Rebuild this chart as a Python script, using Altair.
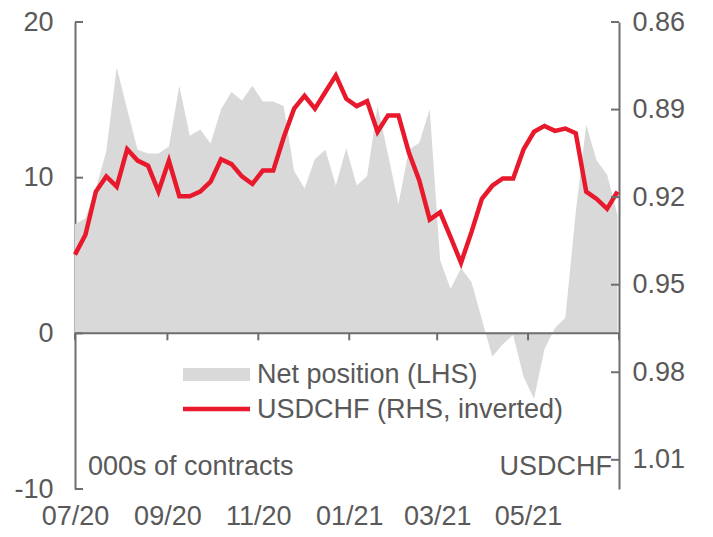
import altair as alt
import pandas as pd

# ---------------- data ----------------
dates = pd.date_range("2020-07-01", periods=53, freq="7D").strftime("%Y-%m-%dT00:00:00").tolist()

net_position = [
    7.0, 7.4, 9.3, 11.7, 17.1, 14.4, 11.8, 11.55, 11.55, 12.0,
    15.9, 12.7, 13.1, 12.2, 14.4, 15.5, 14.95, 15.9, 14.9, 14.9,
    14.6, 10.45, 9.3, 11.2, 11.8, 9.5, 11.9, 9.5, 10.1, 14.6,
    11.5, 8.3, 11.8, 12.25, 14.4, 4.7, 2.85, 4.2, 3.3, 0.9,
    -1.5, -0.7, -0.1, -2.8, -4.2, -1.0, 0.35, 1.0, 7.8, 13.4,
    11.1, 10.2, 7.6,
]

usdchf = [
    0.9397, 0.9329, 0.9181, 0.9129, 0.9164, 0.9036, 0.9075, 0.9092, 0.9181, 0.9075,
    0.9197, 0.9197, 0.9181, 0.9147, 0.9070, 0.9087, 0.9129, 0.9155, 0.9109, 0.9109,
    0.8996, 0.8897, 0.8853, 0.8897, 0.8840, 0.8783, 0.8863, 0.8888, 0.8871, 0.8976,
    0.8920, 0.8920, 0.9047, 0.9143, 0.9277, 0.9252, 0.9337, 0.9425, 0.9320, 0.9206,
    0.9161, 0.9136, 0.9136, 0.9036, 0.8976, 0.8956, 0.8973, 0.8965, 0.8981, 0.9181,
    0.9206, 0.9240, 0.9181,
]

x_tick_dates = [
    "2020-07-01T00:00:00", "2020-09-01T00:00:00", "2020-11-01T00:00:00",
    "2021-01-01T00:00:00", "2021-03-01T00:00:00", "2021-05-01T00:00:00",
    "2021-07-01T00:00:00",
]
left_ticks = [-10, 0, 10, 20]
right_ticks = [0.86, 0.89, 0.92, 0.95, 0.98, 1.01]

series_net = "Net position (LHS)"
series_usd = "USDCHF (RHS, inverted)"
left_note = "000s of contracts"
right_note = "USDCHF"

df = pd.DataFrame({"date": dates, "net": net_position, "usd": usdchf})

# ---------------- style ----------------
W, H = 544, 467
FONT = "Liberation Sans"
FS = 27
TXT = "#595959"
AX = "#6e6e6e"
RED = "#E8192C"
GREY = "#D9D9D9"

x_scale = alt.Scale(domain=[alt.DateTime(year=2020, month=7, date=1),
                            alt.DateTime(year=2021, month=7, date=1)])
x_label_values = [
    alt.DateTime(year=2020, month=7, date=1), alt.DateTime(year=2020, month=9, date=1),
    alt.DateTime(year=2020, month=11, date=1), alt.DateTime(year=2021, month=1, date=1),
    alt.DateTime(year=2021, month=3, date=1), alt.DateTime(year=2021, month=5, date=1),
]
x_axis = alt.Axis(values=x_label_values, format="%m/%y", domain=False, ticks=False,
                  grid=False, labelFont=FONT, labelFontSize=FS, labelColor=TXT,
                  labelPadding=14, labelFlush=False, labelOverlap=False, title=None)
X = alt.X("date:T", scale=x_scale, axis=x_axis)

left_scale = alt.Scale(domain=[-10, 20], nice=False, zero=False)
left_axis = alt.Axis(values=left_ticks, labelExpr="'' + datum.value", domain=True,
                     domainColor=AX, domainWidth=2, ticks=False, grid=False,
                     labelFont=FONT, labelFontSize=FS, labelColor=TXT, labelPadding=22,
                     title=None)
right_scale = alt.Scale(domain=[0.86, 1.02], reverse=True, nice=False, zero=False)
right_axis = alt.Axis(orient="right", values=right_ticks, format=".2f", domain=True,
                      domainColor=AX, domainWidth=2, ticks=False, grid=False,
                      labelFont=FONT, labelFontSize=FS, labelColor=TXT, labelPadding=13,
                      title=None)

# ---------------- left-scale layer ----------------
area = alt.Chart(df).mark_area(color=GREY, opacity=1).encode(
    x=X,
    y=alt.Y("net:Q", scale=left_scale, axis=left_axis, stack=None),
    y2=alt.datum(0),
)

zero_line = alt.Chart(pd.DataFrame({"net": [0]})).mark_rule(color=AX, strokeWidth=2).encode(
    y=alt.Y("net:Q", scale=left_scale, axis=left_axis)
)

xt = pd.DataFrame({"date": x_tick_dates, "net": [0] * len(x_tick_dates),
                   "net2": [-0.45] * len(x_tick_dates)})
x_ticks = alt.Chart(xt).mark_rule(color=AX, strokeWidth=2).encode(
    x=X, y=alt.Y("net:Q", scale=left_scale, axis=left_axis), y2="net2:Q"
)

left_tick_marks = alt.Chart(pd.DataFrame({"net": left_ticks})).mark_rule(
    color=AX, strokeWidth=2).encode(
    y=alt.Y("net:Q", scale=left_scale, axis=left_axis), x=alt.value(0), x2=alt.value(8)
)

note_left = alt.Chart(pd.DataFrame({"t": [left_note]})).mark_text(
    align="left", baseline="middle", font=FONT, fontSize=FS, color=TXT).encode(
    x=alt.value(13), y=alt.value(445), text="t:N")
note_right = alt.Chart(pd.DataFrame({"t": [right_note]})).mark_text(
    align="right", baseline="middle", font=FONT, fontSize=FS, color=TXT).encode(
    x=alt.value(537), y=alt.value(445), text="t:N")

leg_rect = alt.Chart(pd.DataFrame({"t": [series_net]})).mark_rect(color=GREY).encode(
    x=alt.value(108), x2=alt.value(175), y=alt.value(346), y2=alt.value(359))
leg_line = alt.Chart(pd.DataFrame({"t": [series_usd]})).mark_rule(
    color=RED, strokeWidth=4.5).encode(x=alt.value(108), x2=alt.value(175), y=alt.value(387))
leg_t1 = alt.Chart(pd.DataFrame({"t": [series_net]})).mark_text(
    align="left", baseline="middle", font=FONT, fontSize=FS, color=TXT).encode(
    x=alt.value(182), y=alt.value(353), text="t:N")
leg_t2 = alt.Chart(pd.DataFrame({"t": [series_usd]})).mark_text(
    align="left", baseline="middle", font=FONT, fontSize=FS, color=TXT).encode(
    x=alt.value(182), y=alt.value(388), text="t:N")

left_layer = alt.layer(area, zero_line, x_ticks, left_tick_marks,
                       note_left, note_right, leg_rect, leg_line, leg_t1, leg_t2)

# ---------------- right-scale layer ----------------
line = alt.Chart(df).mark_line(color=RED, strokeWidth=4.5).encode(
    x=X, y=alt.Y("usd:Q", scale=right_scale, axis=right_axis)
)
right_tick_marks = alt.Chart(pd.DataFrame({"usd": right_ticks})).mark_rule(
    color=AX, strokeWidth=2).encode(
    y=alt.Y("usd:Q", scale=right_scale, axis=right_axis), x=alt.value(W - 8), x2=alt.value(W)
)
right_layer = alt.layer(line, right_tick_marks)

chart = alt.layer(left_layer, right_layer).resolve_scale(y="independent").properties(
    width=W, height=H,
    autosize=alt.AutoSizeParams(type="none"),
    padding={"left": 67, "top": 14, "right": 86, "bottom": 40},
    background="white",
).configure_view(stroke=None)

chart.save("out.html", embed_options={"renderer": "svg", "actions": False})
